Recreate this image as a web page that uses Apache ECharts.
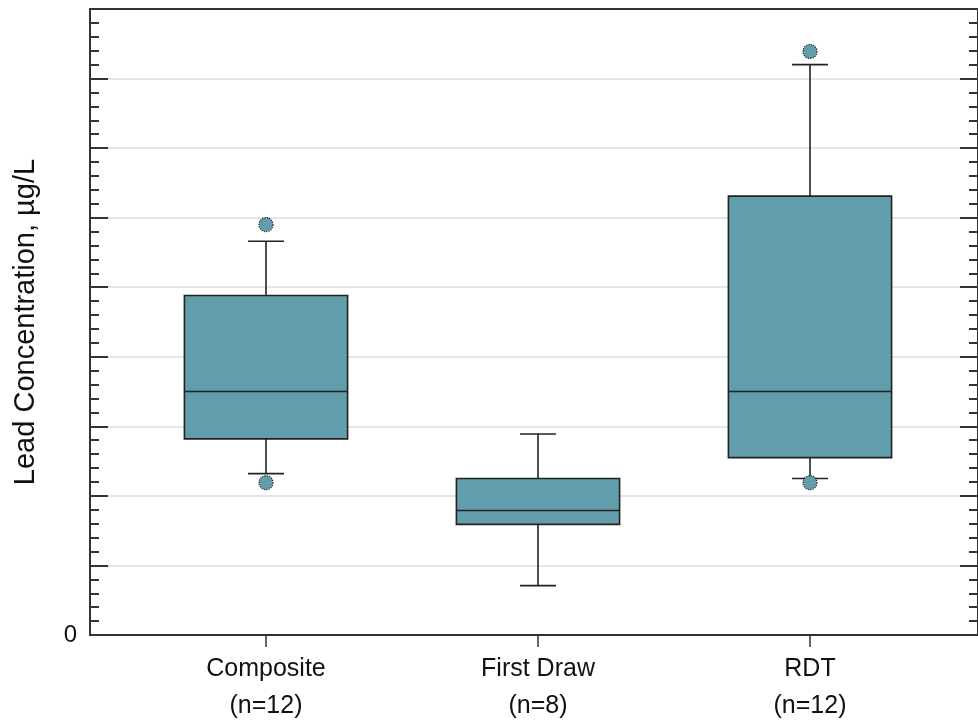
<!DOCTYPE html>
<html>
<head>
<meta charset="utf-8">
<script src="https://cdn.jsdelivr.net/npm/echarts@6/dist/echarts.min.js"></script>
<style>
html,body{margin:0;padding:0;background:#fff;}
#chart{width:978px;height:724px;}
</style>
</head>
<body>
<div id="chart"></div>
<script>
const categories = ['Composite', 'First Draw', 'RDT'];
const sampleCounts = ['(n=12)', '(n=8)', '(n=12)'];
const lowerWhisker = [2.32, 0.71, 2.25];
const q1 = [2.82, 1.59, 2.55];
const median = [3.50, 1.79, 3.50];
const q3 = [4.88, 2.25, 6.31];
const upperWhisker = [5.66, 2.89, 8.20];
const outlierCategory = [0, 0, 2, 2];
const outlierValue = [5.90, 2.19, 8.39, 2.19];
const yMin = 0, yMax = 9, yInterval = 1;
const yTitle = 'Lead Concentration, \u00b5g/L';

const FILL = '#629dab';
const EDGE = '#222222';
const FONT = 'Arial, "Liberation Sans", sans-serif';

const boxData = categories.map((c, i) => [i, lowerWhisker[i], q1[i], median[i], q3[i], upperWhisker[i]]);
const outlierData = outlierCategory.map((c, i) => [c, outlierValue[i]]);

const chart = echarts.init(document.getElementById('chart'), null, {renderer: 'canvas'});

function renderBox(params, api) {
  const x = api.value(0);
  const band = api.size([1, 0])[0];
  const hw = band * 0.3;
  const cw = band * 0.066;
  const pMin = api.coord([x, api.value(1)]);
  const pQ1 = api.coord([x, api.value(2)]);
  const pMed = api.coord([x, api.value(3)]);
  const pQ3 = api.coord([x, api.value(4)]);
  const pMax = api.coord([x, api.value(5)]);
  const cx = pMed[0];
  const ls = {stroke: EDGE, lineWidth: 1.6};
  return {
    type: 'group',
    children: [
      {type: 'line', shape: {x1: cx, y1: pQ3[1], x2: cx, y2: pMax[1]}, style: ls},
      {type: 'line', shape: {x1: cx - cw, y1: pMax[1], x2: cx + cw, y2: pMax[1]}, style: ls},
      {type: 'line', shape: {x1: cx, y1: pQ1[1], x2: cx, y2: pMin[1]}, style: ls},
      {type: 'line', shape: {x1: cx - cw, y1: pMin[1], x2: cx + cw, y2: pMin[1]}, style: ls},
      {type: 'rect', shape: {x: cx - hw, y: pQ3[1], width: hw * 2, height: pQ1[1] - pQ3[1]},
        style: {fill: FILL, stroke: EDGE, lineWidth: 1.6}},
      {type: 'line', shape: {x1: cx - hw, y1: pMed[1], x2: cx + hw, y2: pMed[1]}, style: ls}
    ]
  };
}

const frameAxis = (pos) => ({
  gridIndex: 0, type: 'value', min: 0, max: 1, position: pos,
  axisLine: {show: true, onZero: false, lineStyle: {color: '#333', width: 2}},
  axisTick: {show: false}, axisLabel: {show: false}, splitLine: {show: false}
});

const option = {
  backgroundColor: '#ffffff',
  animation: false,
  grid: [
    {left: 90, top: 9, width: 896, height: 626},
    {left: 130, top: 9, width: 816, height: 626}
  ],
  xAxis: [
    frameAxis('bottom'),
    frameAxis('top'),
    {
      gridIndex: 1, type: 'category', data: categories, boundaryGap: true,
      axisLine: {show: false},
      axisTick: {show: true, alignWithLabel: true, length: 12, lineStyle: {color: '#333', width: 1.5}},
      axisLabel: {
        margin: 16,
        formatter: (v, i) => '{a|' + v + '}\n{a|' + sampleCounts[i] + '}',
        rich: {a: {fontFamily: FONT, fontSize: 25, color: '#111', lineHeight: 37, align: 'center'}}
      },
      splitLine: {show: false}
    }
  ],
  yAxis: [
    {
      gridIndex: 0, type: 'value', min: yMin, max: yMax, interval: yInterval, position: 'left',
      name: yTitle, nameLocation: 'middle', nameGap: 50, nameRotate: 90,
      nameTextStyle: {fontFamily: FONT, fontSize: 29, color: '#111'},
      axisLine: {show: true, onZero: false, lineStyle: {color: '#333', width: 2}},
      axisTick: {show: true, inside: true, length: 18, lineStyle: {color: '#333', width: 2}},
      minorTick: {show: true, splitNumber: 5, length: 9, lineStyle: {color: '#333', width: 2}},
      axisLabel: {margin: 13, fontFamily: FONT, fontSize: 24, color: '#111', formatter: v => (v === 0 ? '0' : '')},
      splitLine: {show: true, showMinLine: false, showMaxLine: false, lineStyle: {color: '#e4e4e4', width: 2}}
    },
    {
      gridIndex: 0, type: 'value', min: yMin, max: yMax, interval: yInterval, position: 'right',
      axisLine: {show: true, onZero: false, lineStyle: {color: '#333', width: 2}},
      axisTick: {show: true, inside: true, length: 18, lineStyle: {color: '#333', width: 2}},
      minorTick: {show: true, splitNumber: 5, length: 9, lineStyle: {color: '#333', width: 2}},
      axisLabel: {show: false},
      splitLine: {show: false}
    },
    {gridIndex: 1, type: 'value', min: yMin, max: yMax, interval: yInterval, show: false, splitLine: {show: false}}
  ],
  series: [
    {
      type: 'custom', xAxisIndex: 2, yAxisIndex: 2, data: boxData,
      encode: {x: 0, y: [1, 2, 3, 4, 5]},
      renderItem: renderBox, z: 3
    },
    {
      type: 'scatter', xAxisIndex: 2, yAxisIndex: 2, data: outlierData,
      symbol: 'circle', symbolSize: 14,
      itemStyle: {color: FILL, borderColor: EDGE, borderWidth: 1.2, borderType: 'dotted', opacity: 1},
      z: 4
    }
  ]
};
chart.setOption(option);
</script>
</body>
</html>
